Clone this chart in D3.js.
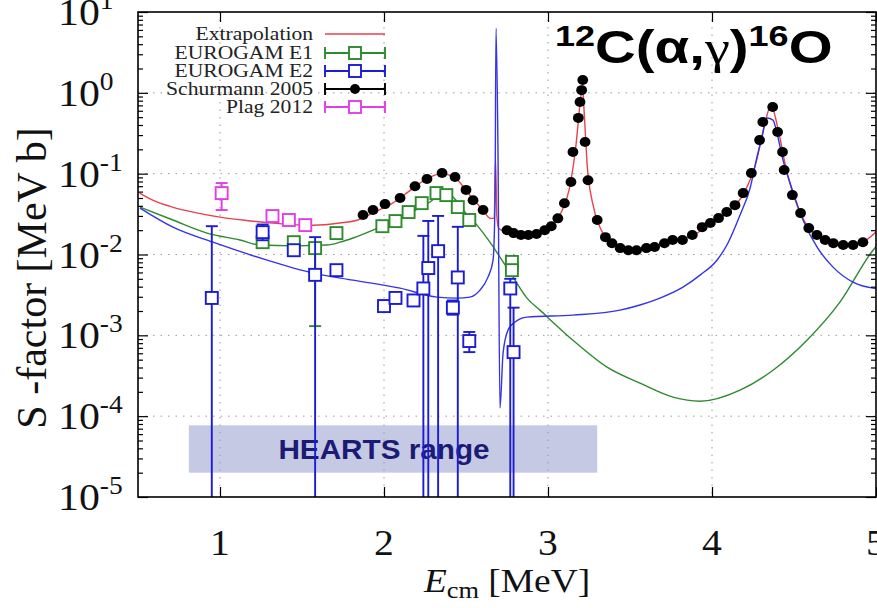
<!DOCTYPE html>
<html><head><meta charset="utf-8">
<script src="https://cdn.jsdelivr.net/npm/d3@7/dist/d3.min.js"></script>
<style>body{margin:0;background:#fff}svg{display:block}</style>
</head><body>
<svg id="c" width="877" height="608"></svg>
<script>
// ---------------- DATA ----------------
const xTickVals = [1, 2, 3, 4, 5];
const xTickLabels = ["1", "2", "3", "4", "5"];
const yTickVals = [1e-5, 1e-4, 1e-3, 1e-2, 1e-1, 1, 10];
const yTickExps = ["-5", "-4", "-3", "-2", "-1", "0", "1"];
const legendLabels = ["Extrapolation", "EUROGAM E1", "EUROGAM E2", "Schurmann 2005", "Plag 2012"];

// Extrapolation (red)
const extrapE = [0.51,0.6,0.71,0.85,1.0,1.15,1.32,1.57,1.73,1.84,1.95,2.05,2.15,2.25,2.35,2.43,2.52,2.6,2.65,2.672,2.68,2.688,2.70,2.75,2.85,2.95,3.02,3.08,3.13,3.17,3.20,3.21,3.22,3.24,3.27,3.32,3.40,3.50,3.60,3.70,3.80,3.90,4.00,4.10,4.20,4.27,4.32,4.36,4.40,4.45,4.52,4.60,4.70,4.80,4.90,5.00];
const extrapS = [0.0575,0.046,0.0386,0.033,0.029,0.0265,0.0245,0.023,0.0245,0.0267,0.034,0.043,0.060,0.084,0.100,0.090,0.055,0.036,0.028,0.028,0.15,0.03,0.021,0.019,0.0172,0.0182,0.022,0.033,0.065,0.22,0.9,1.25,0.6,0.12,0.045,0.021,0.0135,0.0112,0.0118,0.0135,0.0152,0.018,0.0245,0.034,0.060,0.14,0.40,0.70,0.38,0.12,0.040,0.020,0.015,0.0132,0.0138,0.019];

// E1 fit curve (green)
const fitE1E = [0.512,0.713,0.921,1.122,1.244,1.45,1.652,1.732,1.811,1.933,2.098,2.159,2.280,2.360,2.421,2.482,2.567,2.646,2.707,2.787,2.872,2.951,3.152,3.360,3.561,3.762,3.927,4.171,4.372,4.579,4.780,4.982,5.0];
const fitE1S = [0.0386,0.0267,0.0184,0.0151,0.0131,0.0128,0.0131,0.0142,0.016,0.020,0.0282,0.0325,0.0446,0.0575,0.0513,0.0355,0.0231,0.0142,0.0093,0.00525,0.00289,0.00205,8.7e-4,4.04e-4,2.56e-4,1.72e-4,1.53e-4,2.1e-4,3.7e-4,8.7e-4,2.58e-3,0.0113,0.0125];

// E2 fit curve (blue)
const fitE2E = [0.512,0.713,0.957,1.287,1.567,1.811,2.098,2.323,2.445,2.524,2.585,2.634,2.665,2.677,2.683,2.695,2.707,2.726,2.756,2.799,2.872,3.152,3.439,3.561,3.683,3.823,3.927,4.030,4.091,4.171,4.232,4.274,4.305,4.335,4.372,4.396,4.433,4.476,4.555,4.640,4.738,4.860,4.982,5.0];
const fitE2S = [0.0375,0.0218,0.0142,0.00853,0.00589,0.00482,0.00384,0.00297,0.00289,0.00297,0.00362,0.00525,0.00853,0.047,6.3,0.196,1.26e-4,6.0e-4,1.16e-3,1.46e-3,1.68e-3,1.78e-3,2.05e-3,2.37e-3,2.89e-3,3.95e-3,5.56e-3,8.5e-3,0.0131,0.0308,0.066,0.160,0.284,0.488,0.46,0.318,0.147,0.0766,0.0267,0.0124,0.00698,0.00455,0.00384,0.0038];

// Schurmann 2005 (black dots)
const schE = [1.872,1.933,2.006,2.098,2.189,2.262,2.354,2.433,2.500,2.543,2.604,2.75,2.79,2.835,2.88,2.93,2.98,3.02,3.06,3.10,3.14,3.152,3.185,3.195,3.205,3.212,3.226,3.244,3.30,3.35,3.39,3.44,3.49,3.54,3.60,3.65,3.71,3.76,3.82,3.88,3.94,3.99,4.04,4.09,4.14,4.19,4.24,4.29,4.31,4.37,4.40,4.43,4.44,4.49,4.54,4.59,4.64,4.69,4.74,4.80,4.86,4.92];
const schS = [0.0308,0.0355,0.042,0.050,0.070,0.086,0.102,0.091,0.063,0.047,0.0355,0.020,0.0184,0.0174,0.0174,0.0179,0.020,0.0224,0.028,0.043,0.079,0.185,0.49,0.77,1.08,1.44,0.246,0.083,0.0267,0.0164,0.0138,0.012,0.0113,0.0113,0.012,0.0124,0.0138,0.0151,0.0151,0.0174,0.0218,0.0245,0.0282,0.0335,0.0408,0.0575,0.1016,0.26,0.435,0.667,0.327,0.185,0.111,0.0543,0.0325,0.0212,0.0174,0.0151,0.0138,0.0131,0.0131,0.0142];

// EUROGAM E1 (green squares)
const e1E  = [1.26,1.45,1.58,1.71,1.99,2.07,2.15,2.23,2.32,2.38,2.45,2.52,2.78,2.78];
const e1S  = [0.0142,0.0142,0.0120,0.0184,0.0224,0.0259,0.0335,0.0432,0.0575,0.0543,0.0386,0.0267,0.0081,0.0064];
const e1Lo = [0.0125,0.0125,0.0013,0.0165,0.0200,0.0230,0.0300,0.0380,0.0520,0.0480,0.0340,0.0240,0.0072,0.0057];
const e1Hi = [0.0160,0.0160,0.0140,0.0205,0.0250,0.0290,0.0370,0.0480,0.0640,0.0600,0.0430,0.0300,0.0090,0.0071];

// EUROGAM E2 (blue squares)
const e2E  = [0.95,1.26,1.45,1.58,1.71,2.00,2.07,2.18,2.24,2.27,2.33,2.42,2.45,2.52,2.77,2.79];
const e2S  = [0.0029,0.0189,0.0113,0.0056,0.0064,0.0023,0.0029,0.0027,0.0038,0.0068,0.011,0.0022,0.0052,0.00085,0.0038,0.00062];
const e2Lo = [1e-6,0.0150,0.0098,1e-6,0.0057,0.0020,0.0026,0.0024,1e-6,1e-6,1e-6,0.0018,1e-6,0.00062,1e-6,1e-6];
const e2Hi = [0.0224,0.0235,0.0130,0.0164,0.0072,0.0027,0.0033,0.0031,0.017,0.026,0.030,0.0027,0.022,0.0011,0.0050,0.0022];

// Plag 2012 (magenta squares)
const plagE  = [1.01,1.32,1.42,1.52];
const plagS  = [0.0575,0.0299,0.0267,0.0231];
const plagLo = [0.0355,0.027,0.024,0.021];
const plagHi = [0.0766,0.033,0.029,0.025];

// HEARTS range band
const heartsE = [0.81, 3.30];
const heartsS = [2.0e-5, 7.7e-5];
const heartsLabel = "HEARTS range";

// ---------------- DRAW ----------------
const C = {red:"#e5434d", green:"#2e8a2e", blue:"#3434e6", blueP:"#1c1cd6", mag:"#e23ee6", black:"#000"};
const svg = d3.select("#c");
const L = 138, R = 876, T = 12, B = 497;
const x = d3.scaleLinear().domain([0.5, 5]).range([L, R]);
const y = d3.scaleLog().domain([1e-5, 10]).range([B, T]);

svg.append("defs").append("clipPath").attr("id","clip")
  .append("rect").attr("x",L).attr("y",T).attr("width",R-L).attr("height",B-T);

// grid
const grid = svg.append("g").attr("stroke","#9a9a9a").attr("stroke-width",1).attr("stroke-dasharray","1.5,6");
grid.selectAll(".gy").data(yTickVals.slice(1,-1)).join("line")
  .attr("x1",L).attr("x2",R).attr("y1",d=>y(d)).attr("y2",d=>y(d));
grid.selectAll(".gx").data(xTickVals.slice(0,-1)).join("line")
  .attr("y1",T).attr("y2",B).attr("x1",d=>x(d)).attr("x2",d=>x(d));

const plot = svg.append("g").attr("clip-path","url(#clip)");

// HEARTS band
plot.append("rect")
  .attr("x",x(heartsE[0])).attr("width",x(heartsE[1])-x(heartsE[0]))
  .attr("y",y(heartsS[1])).attr("height",y(heartsS[0])-y(heartsS[1]))
  .attr("fill","#8d93c9").attr("fill-opacity",0.5);
plot.append("g").attr("transform",`translate(${x(2.0)},${y(Math.sqrt(heartsS[0]*heartsS[1]))}) scale(1.1,1)`)
  .append("text").attr("text-anchor","middle").attr("dy","0.36em")
  .attr("font-family","Liberation Sans, Arial, sans-serif").attr("font-weight","bold")
  .attr("font-size",27).attr("fill","#1b1b76").text(heartsLabel);

// curves
const line = d3.line().x(d=>x(d[0])).y(d=>y(d[1])).curve(d3.curveMonotoneX);
function curve(E,S,col){
  plot.append("path").datum(E.map((e,i)=>[e,S[i]])).attr("d",line)
    .attr("fill","none").attr("stroke",col).attr("stroke-width",1.4);
}
curve(extrapE, extrapS, C.red);
curve(fitE1E, fitE1S, C.green);
curve(fitE2E, fitE2S, C.blue);

// error-bar squares
function squares(E,S,Lo,Hi,col){
  const g = plot.append("g").attr("stroke",col).attr("stroke-width",1.9).attr("fill","#fff");
  E.forEach((e,i)=>{
    const cx = x(e);
    g.append("line").attr("x1",cx).attr("x2",cx).attr("y1",y(Lo[i])).attr("y2",y(Hi[i]));
    g.append("line").attr("x1",cx-6).attr("x2",cx+6).attr("y1",y(Hi[i])).attr("y2",y(Hi[i]));
    g.append("line").attr("x1",cx-6).attr("x2",cx+6).attr("y1",y(Lo[i])).attr("y2",y(Lo[i]));
  });
  E.forEach((e,i)=>{
    g.append("rect").attr("x",x(e)-6).attr("y",y(S[i])-6).attr("width",12).attr("height",12);
  });
}
squares(e1E,e1S,e1Lo,e1Hi,C.green);
squares(e2E,e2S,e2Lo,e2Hi,C.blueP);
squares(plagE,plagS,plagLo,plagHi,C.mag);

// Schurmann dots
plot.append("g").selectAll("ellipse").data(schE).join("ellipse")
  .attr("cx",d=>x(d)).attr("cy",(d,i)=>y(schS[i])).attr("rx",5.4).attr("ry",5).attr("fill","#000");

// axes ticks
const minorY = [];
for (let d=-5; d<1; d++) for (let k=2;k<10;k++) minorY.push(k*Math.pow(10,d));
function tickStyle(g){ g.select(".domain").remove(); g.selectAll("line").attr("stroke","#000").attr("stroke-width",1.2); }
svg.append("g").attr("transform",`translate(${L},0)`).call(d3.axisLeft(y).tickValues(yTickVals).tickSize(-10).tickFormat("")).call(tickStyle);
svg.append("g").attr("transform",`translate(${L},0)`).call(d3.axisLeft(y).tickValues(minorY).tickSize(-5).tickFormat("")).call(tickStyle);
svg.append("g").attr("transform",`translate(${R},0)`).call(d3.axisRight(y).tickValues(yTickVals).tickSize(-10).tickFormat("")).call(tickStyle);
svg.append("g").attr("transform",`translate(${R},0)`).call(d3.axisRight(y).tickValues(minorY).tickSize(-5).tickFormat("")).call(tickStyle);
svg.append("g").attr("transform",`translate(0,${B})`).call(d3.axisBottom(x).tickValues(xTickVals).tickSize(-10).tickFormat("")).call(tickStyle);
svg.append("g").attr("transform",`translate(0,${T})`).call(d3.axisTop(x).tickValues(xTickVals).tickSize(-10).tickFormat("")).call(tickStyle);

// frame
svg.append("rect").attr("x",L).attr("y",T).attr("width",R-L).attr("height",B-T)
  .attr("fill","none").attr("stroke","#000").attr("stroke-width",1.6);

const serif = "Liberation Serif, Times New Roman, serif";

// y tick labels
yTickVals.forEach((v,i)=>{
  const t = svg.append("g").attr("transform",`translate(58,${y(v)+13}) scale(1.1,1)`)
    .append("text").attr("font-family",serif).attr("font-size",38).attr("fill","#111");
  t.append("tspan").text("10");
  t.append("tspan").attr("font-size",25).attr("dy",-16).text(yTickExps[i]);
});
// x tick labels
xTickVals.forEach((v,i)=>{
  svg.append("g").attr("transform",`translate(${x(v)},555) scale(1.1,1)`)
    .append("text").attr("text-anchor","middle").attr("font-family",serif).attr("font-size",36).attr("fill","#111")
    .text(xTickLabels[i]);
});

// axis titles
svg.append("text").attr("transform","translate(46,278) rotate(-90)").attr("text-anchor","middle")
  .attr("font-family",serif).attr("font-size",42).attr("fill","#111").text("S -factor [MeV b]");
const xt = svg.append("g").attr("transform",`translate(507,592) scale(1.1,1)`)
  .append("text").attr("text-anchor","middle").attr("font-family",serif).attr("font-size",34).attr("fill","#111");
xt.append("tspan").attr("font-style","italic").text("E");
xt.append("tspan").attr("font-size",24).attr("dy",6).text("cm");
xt.append("tspan").attr("dy",-6).text(" [MeV]");

// title
const tt = svg.append("g").attr("transform","translate(555,63) scale(1.2,1)")
  .append("text").attr("font-family","Liberation Sans, Arial, sans-serif").attr("font-weight","bold").attr("font-size",47).attr("fill","#000");
tt.append("tspan").attr("font-size",30).attr("dy",-17).text("12");
tt.append("tspan").attr("dy",17).text("C(α,");
tt.append("tspan").attr("font-family",serif).attr("font-weight","normal").text("γ");
tt.append("tspan").text(")");
tt.append("tspan").attr("font-size",30).attr("dy",-17).text("16");
tt.append("tspan").attr("dy",17).text("O");

// legend
const rows = [34, 53, 71, 89, 107];
const legCols = [C.red, C.green, C.blueP, C.black, C.mag];
legendLabels.forEach((lab,i)=>{
  const ry = rows[i];
  svg.append("g").attr("transform",`translate(313,${ry+6}) scale(1.2,1)`)
    .append("text").attr("text-anchor","end").attr("font-family",serif).attr("font-size",18).attr("fill","#222").text(lab);
  const g = svg.append("g").attr("stroke",legCols[i]).attr("stroke-width",i===0?1.4:1.9).attr("fill","#fff");
  g.append("line").attr("x1",325).attr("x2",385).attr("y1",ry).attr("y2",ry);
  if (i>0){
    g.append("line").attr("x1",325).attr("x2",325).attr("y1",ry-6).attr("y2",ry+6);
    g.append("line").attr("x1",385).attr("x2",385).attr("y1",ry-6).attr("y2",ry+6);
    if (i===3) g.append("circle").attr("cx",355).attr("cy",ry).attr("r",5).attr("fill","#000").attr("stroke","none");
    else g.append("rect").attr("x",349).attr("y",ry-6).attr("width",12).attr("height",12);
  }
});
</script>
</body></html>
